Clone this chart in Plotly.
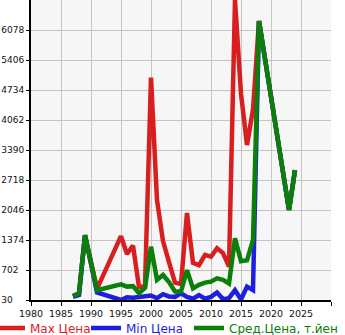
import plotly.graph_objects as go

years_max = [1987, 1988, 1989, 1991, 1995, 1996, 1997, 1998, 1999, 2000, 2001, 2002, 2003, 2004, 2005,
             2006, 2007, 2008, 2009, 2010, 2011, 2012, 2013, 2014, 2015, 2016, 2017, 2018, 2023, 2024]
max_vals = [120, 180, 1480, 280, 1460, 1060, 1250, 320, 340, 5010, 2270, 1350, 880, 420, 390,
            1980, 860, 810, 1040, 1000, 1190, 1080, 780, 6750, 4650, 3500, 4300, 6280, 2046, 2940]

years_min = [1987, 1988, 1989, 1991, 1995, 1996, 1997, 1998, 1999, 2000, 2001, 2002, 2003, 2004, 2005,
             2006, 2007, 2008, 2009, 2010, 2011, 2012, 2013, 2014, 2015, 2016, 2017, 2018, 2023, 2024]
min_vals = [100, 140, 1480, 200, 30, 90, 80, 100, 110, 130, 70, 160, 110, 100, 180,
            100, 60, 140, 60, 100, 200, 50, 70, 250, 40, 330, 250, 6280, 2046, 2940]

years_avg = [1987, 1988, 1989, 1991, 1995, 1996, 1997, 1998, 1999, 2000, 2001, 2002, 2003, 2004, 2005,
             2006, 2007, 2008, 2009, 2010, 2011, 2012, 2013, 2014, 2015, 2016, 2017, 2018, 2023, 2024]
avg_vals = [120, 180, 1480, 250, 380, 330, 340, 180, 300, 1224, 480, 590, 430, 220, 220,
            700, 290, 370, 420, 440, 516, 480, 400, 1410, 900, 920, 1374, 6280, 2046, 2940]

y_ticks = [30, 702, 1374, 2046, 2718, 3390, 4062, 4734, 5406, 6078]
x_ticks = [1980, 1985, 1990, 1995, 2000, 2005, 2010, 2015, 2020, 2025, 2030]
x_labels = ["1980", "1985", "1990", "1995", "2000", "2005", "2010", "2015", "2020", "2025", ""]

RED = "#d81e1e"
BLUE = "#1e1ee0"
GREEN = "#0a800a"

L, T, B, W, H = 31, 0, 35, 345, 335
PW, PH = W - L - 14, H - T - B

def pad(v):
    s = str(v)
    return s + "\u2007" * (4 - len(s))

fig = go.Figure()
fig.add_trace(go.Scatter(x=years_max, y=max_vals, mode="lines",
                         line=dict(color=RED, width=4.5), legend="legend",
                         name='<span style="color:%s">Max Цена</span>' % RED))
fig.add_trace(go.Scatter(x=years_min, y=min_vals, mode="lines",
                         line=dict(color=BLUE, width=4.5), legend="legend",
                         name='<span style="color:%s">Min Цена</span>' % BLUE))
fig.add_trace(go.Scatter(x=years_avg, y=avg_vals, mode="lines",
                         line=dict(color=GREEN, width=4.5), legend="legend2",
                         name='<span style="color:%s">Сред.Цена, т.йен</span>' % GREEN))

leg_common = dict(orientation="h", xanchor="left", yanchor="middle",
                  y=(PH - 328) / PH,
                  font=dict(size=12, family="DejaVu Sans"), bgcolor="rgba(0,0,0,0)",
                  itemwidth=30, tracegroupgap=0)

fig.update_layout(
    width=W, height=H,
    margin=dict(l=L, r=14, t=T, b=B, autoexpand=False),
    paper_bgcolor="white",
    plot_bgcolor="#f6f6f6",
    font=dict(family="DejaVu Sans", size=9, color="#111"),
    showlegend=True,
    legend=dict(x=(-10 - L) / PW, entrywidth=51, **leg_common),
    legend2=dict(x=(189 - L) / PW, **leg_common),
    xaxis=dict(range=[1980, 2030], tickvals=x_ticks, ticktext=x_labels,
               showgrid=True, gridcolor="#c4c4c4", gridwidth=1,
               showline=True, linecolor="black", linewidth=2,
               ticks="outside", ticklen=4, tickcolor="black", zeroline=False,
               tickfont=dict(size=9.5), fixedrange=True),
    yaxis=dict(range=[30, 6750], tickvals=y_ticks, ticktext=[pad(v) for v in y_ticks],
               showgrid=True, gridcolor="#c4c4c4", gridwidth=1,
               showline=True, linecolor="black", linewidth=2,
               ticks="outside", ticklen=3, tickcolor="black", zeroline=False,
               fixedrange=True),
)

fig.write_html("out.html")
